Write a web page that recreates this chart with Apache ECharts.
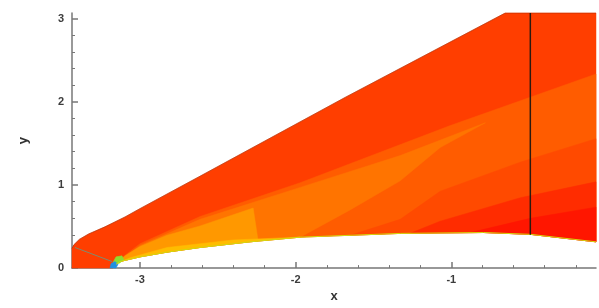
<!DOCTYPE html>
<html>
<head>
<meta charset="utf-8">
<title>shock layer contour</title>
<style>
  html, body { margin: 0; width: 100%; height: 100%; background: #fff; overflow: hidden; }
  #chart { width: 599px; height: 308px; }
</style>
</head>
<body>
<div id="chart"></div>
<script src="https://cdn.jsdelivr.net/npm/echarts@6/dist/echarts.min.js"></script>
<script>
// axis ranges and ticks
const xMin = -3.437, xMax = -0.07;
const yMin = 0, yMax = 3.067;
const xMajor = [-3, -2, -1];
const xMinor = [-2.8, -2.6, -2.4, -2.2, -1.8, -1.6, -1.4, -1.2, -0.8, -0.6, -0.4, -0.2];
const yMajor = [0, 1, 2, 3];
const yMinor = [0.2, 0.4, 0.6, 0.8, 1.2, 1.4, 1.6, 1.8, 2.2, 2.4, 2.6, 2.8];

// outer shock and body wall (x, y)
const shockLine = [[-3.437, 0.237], [-3.425, 0.280], [-3.39, 0.345], [-3.33, 0.41], [-3.225, 0.496], [-3.096, 0.615],
  [-3.0, 0.715], [-2.614, 1.105], [-1.682, 2.052], [-0.653, 3.067], [-0.07, 3.067]];
const bodyLine = [[-3.174, 0], [-3.154, 0.045], [-3.129, 0.079], [-3.0, 0.135], [-2.826, 0.192],
  [-2.614, 0.248], [-2.293, 0.316], [-1.971, 0.372], [-1.328, 0.417], [-0.794, 0.428],
  [-0.492, 0.406], [-0.07, 0.316]];

// contour level edges, each one ends on the wall
const orangeEdge = [[-3.141, 0.090], [-3.0, 0.293], [-2.614, 0.620], [-1.971, 1.026], [-1.006, 1.714], [-0.07, 2.334]];
const streakEdge = [[-3.148, 0.068], [-3.0, 0.271], [-2.614, 0.586], [-1.971, 0.970], [-1.328, 1.353],
  [-0.781, 1.747], [-1.071, 1.45], [-1.328, 1.05], [-1.650, 0.70], [-1.971, 0.372]];
const midEdge = [[-1.650, 0.394], [-1.328, 0.586], [-1.071, 0.924], [-0.556, 1.274], [-0.07, 1.556]];
const lowEdge = [[-1.264, 0.418], [-1.071, 0.564], [-0.556, 0.846], [-0.07, 1.037]];
const wallEdge = [[-0.878, 0.427], [-0.492, 0.598], [-0.07, 0.733]];
const lightEdge = [[-3.154, 0.045], [-3.096, 0.147], [-3.0, 0.259], [-2.826, 0.395], [-2.614, 0.507],
  [-2.273, 0.722], [-2.241, 0.325]];
const yellowEdge = [[-3.148, 0.056], [-3.064, 0.124], [-2.826, 0.248], [-2.402, 0.338], [-1.971, 0.372]];
const noseGreen = [[-3.174, 0.068], [-3.154, 0.135], [-3.116, 0.147], [-3.103, 0.101], [-3.135, 0.056]];
const noseBlue = [[-3.193, 0], [-3.186, 0.056], [-3.161, 0.079], [-3.141, 0.045], [-3.154, 0]];

const sonicLine = [[-3.418, 0.248], [-3.180, 0.079]];
const stationLine = [[-0.492, 0.40], [-0.492, 3.067]];

// close an edge down onto the wall
function toWall(edge) {
  const a = edge[0][0], b = edge[edge.length - 1][0];
  const lo = Math.min(a, b) - 1e-6, hi = Math.max(a, b) + 1e-6;
  const wall = bodyLine.filter(p => p[0] >= lo && p[0] <= hi).reverse();
  return edge.concat(wall);
}

const layers = [
  { pts: toWall(shockLine).concat([[xMin, 0]]), color: '#ff3e00' },
  { pts: toWall(orangeEdge), color: '#ff5c00' },
  { pts: toWall(streakEdge), color: '#ff7400' },
  { pts: toWall(midEdge), color: '#ff4a00' },
  { pts: toWall(lowEdge), color: '#ff2c00' },
  { pts: toWall(wallEdge), color: '#ff1600' },
  { pts: toWall(lightEdge), color: '#ff9800' },
  { pts: toWall(yellowEdge), color: '#ffbc00' },
  { pts: noseGreen, color: '#8edc30' },
  { pts: noseBlue, color: '#2090e0' }
];

const labelFont = { fontFamily: 'Liberation Sans', fontWeight: 'bold', fontSize: 11, color: '#3c3c3c' };
const axisGrey = '#777';

function lineSeries(data, color, width) {
  return {
    type: 'line', data: data, symbol: 'none', silent: true, z: 5,
    lineStyle: { color: color, width: width }
  };
}

const chart = echarts.init(document.getElementById('chart'));
chart.setOption({
  animation: false,
  grid: { left: 72, right: 3, top: 13, bottom: 23 },
  xAxis: [{
    type: 'value', min: xMin, max: xMax, position: 'bottom',
    name: 'x', nameLocation: 'middle', nameGap: 10,
    nameTextStyle: { fontFamily: 'Liberation Sans', fontWeight: 'bold', fontSize: 13, color: '#333' },
    axisLine: { onZero: false, lineStyle: { color: axisGrey, width: 1.5 } },
    axisTick: { inside: true, length: 6, customValues: xMajor, lineStyle: { color: axisGrey, width: 1.5 } },
    axisLabel: Object.assign({ customValues: xMajor, margin: 6 }, labelFont),
    splitLine: { show: false }
  }, {
    type: 'value', min: xMin, max: xMax, position: 'bottom',
    axisLine: { show: false },
    axisTick: { inside: true, length: 3, customValues: xMinor, lineStyle: { color: axisGrey, width: 1 } },
    axisLabel: { show: false },
    splitLine: { show: false }
  }],
  yAxis: [{
    type: 'value', min: yMin, max: yMax, position: 'left',
    name: 'y', nameLocation: 'middle', nameGap: 42,
    nameTextStyle: { fontFamily: 'Liberation Sans', fontWeight: 'bold', fontSize: 13, color: '#333' },
    axisLine: { show: true, onZero: false, lineStyle: { color: axisGrey, width: 1.5 } },
    axisTick: { show: true, inside: true, length: 6, customValues: yMajor, lineStyle: { color: axisGrey, width: 1.5 } },
    axisLabel: Object.assign({ customValues: yMajor, margin: 8 }, labelFont),
    splitLine: { show: false }
  }, {
    type: 'value', min: yMin, max: yMax, position: 'left',
    axisLine: { show: false },
    axisTick: { show: true, inside: true, length: 3, customValues: yMinor, lineStyle: { color: axisGrey, width: 1 } },
    axisLabel: { show: false },
    splitLine: { show: false }
  }],
  series: [{
    type: 'custom',
    coordinateSystem: 'cartesian2d',
    silent: true,
    data: layers.map(l => l.pts[0]),
    renderItem: function (params, api) {
      const layer = layers[params.dataIndex];
      return {
        type: 'polygon',
        shape: { points: layer.pts.map(p => api.coord(p)) },
        style: { fill: layer.color, stroke: layer.color, lineWidth: 0.5 }
      };
    }
  },
  lineSeries(shockLine, 'rgba(150,40,0,0.5)', 1),
  lineSeries(bodyLine.slice(1), '#d2d810', 1),
  lineSeries(sonicLine, '#7d8c70', 1),
  lineSeries(stationLine, '#2a1a10', 1.5)
  ]
});
</script>
</body>
</html>
